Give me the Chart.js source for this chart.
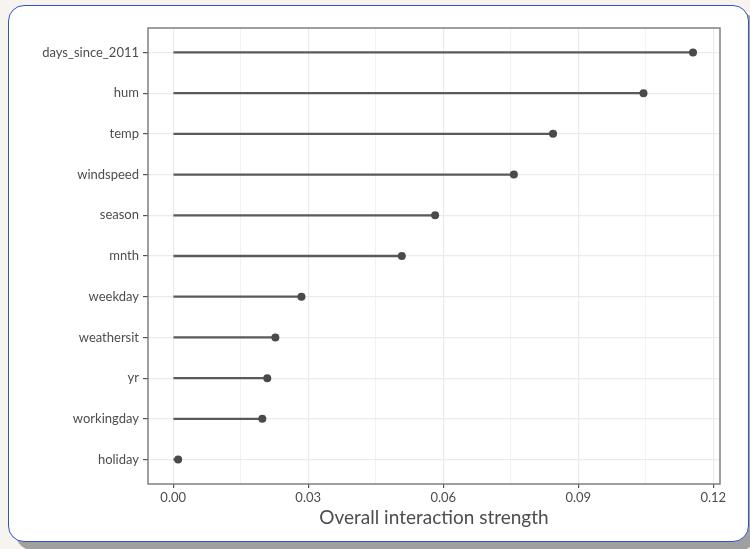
<!DOCTYPE html>
<html>
<head>
<meta charset="utf-8">
<script src="https://cdn.jsdelivr.net/npm/chart.js@4.4.1/dist/chart.umd.min.js"></script>
<style>
  html, body { margin: 0; padding: 0; width: 750px; height: 549px; overflow: hidden; background: #f7f4ef; }
  #card { position: absolute; left: 8px; top: 5px; width: 741px; height: 537px; box-sizing: border-box;
          background: #ffffff; border: 1.5px solid #3453c9; border-radius: 16px; box-shadow: 8px 8px 0 #a0a0a0; }
  #c { position: absolute; left: 0; top: 0; z-index: 2; }
</style>
</head>
<body>
<div id="card"></div>
<canvas id="c" width="750" height="549"></canvas>
<script>
const categories = ['days_since_2011', 'hum', 'temp', 'windspeed', 'season', 'mnth', 'weekday', 'weathersit', 'yr', 'workingday', 'holiday'];
const strength = [0.1155, 0.1045, 0.0844, 0.0757, 0.0582, 0.0508, 0.0285, 0.0227, 0.0209, 0.0198, 0.0011];
const xMajorTicks = [0, 0.03, 0.06, 0.09, 0.12];
const xMinorTicks = [0.015, 0.045, 0.075, 0.105];
const xRange = [-0.0056, 0.1215];
const xTitle = 'Overall interaction strength';

const FONT = 'Lato, "Open Sans", sans-serif';
const points = strength.map((v, i) => ({ x: v, y: i }));
const allXTicks = xMajorTicks.concat(xMinorTicks).sort((a, b) => a - b);
const isMajor = v => xMajorTicks.some(t => Math.abs(t - v) < 1e-9);

const framePlugin = {
  id: 'frame',
  afterDraw(chart) {
    const { ctx, chartArea: a } = chart;
    ctx.save();
    ctx.strokeStyle = '#7f7f7f';
    ctx.lineWidth = 1.5;
    ctx.strokeRect(a.left, a.top, a.right - a.left, a.bottom - a.top);
    ctx.restore();
  }
};

new Chart(document.getElementById('c'), {
  type: 'bar',
  data: {
    datasets: [
      { type: 'bar', data: points, backgroundColor: '#5a5a5a', borderWidth: 0, barThickness: 1.6, order: 2, indexAxis: 'y' },
      { type: 'scatter', data: points, backgroundColor: '#4a4a4a', borderWidth: 0, pointRadius: 4, order: 1 }
    ]
  },
  options: {
    indexAxis: 'y',
    responsive: false,
    maintainAspectRatio: false,
    devicePixelRatio: 1,
    animation: false,
    layout: { padding: { top: 28, right: 30, left: 0, bottom: 0 } },
    plugins: { legend: { display: false }, tooltip: { enabled: false } },
    scales: {
      x: {
        type: 'linear',
        position: 'bottom',
        offset: false,
        min: xRange[0],
        max: xRange[1],
        afterBuildTicks: s => { s.ticks = allXTicks.map(v => ({ value: v })); },
        afterFit: s => { s.height = 65; },
        border: { display: false },
        grid: {
          offset: false,
          color: ctx => isMajor(ctx.tick ? ctx.tick.value : 0) ? '#ebebeb' : '#f0f0f0',
          lineWidth: ctx => isMajor(ctx.tick ? ctx.tick.value : 0) ? 1.2 : 0.9,
          drawTicks: true,
          tickLength: 4,
          tickColor: ctx => isMajor(ctx.tick ? ctx.tick.value : 0) ? '#555555' : 'rgba(0,0,0,0)',
          tickWidth: 1.2
        },
        ticks: {
          autoSkip: false,
          maxRotation: 0,
          padding: 2,
          color: '#4d4d4d',
          font: { family: FONT, size: 13 },
          callback: v => isMajor(v) ? v.toFixed(2) : ''
        },
        title: {
          display: true,
          text: xTitle,
          color: '#4d4d4d',
          font: { family: FONT, size: 19 },
          padding: { top: 0, bottom: 20 }
        }
      },
      y: {
        type: 'linear',
        reverse: true,
        offset: false,
        min: -0.6,
        max: categories.length - 1 + 0.6,
        afterBuildTicks: s => { s.ticks = categories.map((_, i) => ({ value: i })); },
        afterFit: s => { s.width = 148; },
        border: { display: false },
        grid: {
          offset: false,
          color: '#ebebeb',
          lineWidth: 1.2,
          drawTicks: true,
          tickLength: 5,
          tickColor: '#555555',
          tickWidth: 1.2
        },
        ticks: {
          autoSkip: false,
          padding: 4,
          color: '#4d4d4d',
          font: { family: FONT, size: 13 },
          callback: v => categories[v] !== undefined ? categories[v] : ''
        }
      }
    }
  },
  plugins: [framePlugin]
});
</script>
</body>
</html>
